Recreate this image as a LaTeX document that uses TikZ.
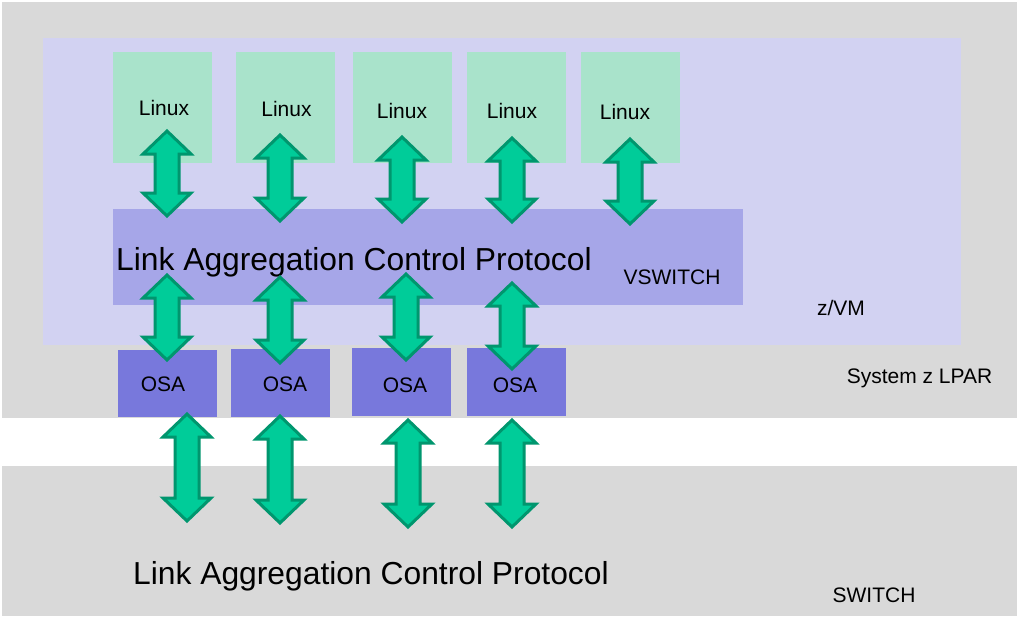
\documentclass[tikz,border=0pt]{standalone}
\usepackage{fontspec}
\setmainfont{Liberation Sans}
\definecolor{lpargray}{RGB}{217,217,217}
\definecolor{zvmfill}{RGB}{210,210,242}
\definecolor{vswfill}{RGB}{166,166,232}
\definecolor{linuxfill}{RGB}{169,227,203}
\definecolor{osafill}{RGB}{120,120,220}
\definecolor{arrfill}{RGB}{0,204,153}
\definecolor{arrline}{RGB}{0,150,110}
\tikzset{
  box/.style={rectangle, inner sep=0pt, outer sep=0pt, anchor=north west},
  smalltxt/.style={inner sep=0pt, anchor=base, font=\fontsize{21}{24}\selectfont},
  bigtxt/.style={inner sep=0pt, anchor=base west, font=\fontsize{31.8}{36}\selectfont},
  dblarrow/.style={fill=arrfill, draw=arrline, line width=3pt, line join=miter},
}
% #1 = centre x, #2 = top, #3 = bottom (outer extents)
\newcommand\dblarr[3]{%
  \draw[dblarrow] (#1,#2+2) -- (#1+24,#2+25) -- (#1+12,#2+25) -- (#1+12,#3-25)
    -- (#1+24,#3-25) -- (#1,#3-2) -- (#1-24,#3-25) -- (#1-12,#3-25)
    -- (#1-12,#2+25) -- (#1-24,#2+25) -- cycle;}
\begin{document}
\begin{tikzpicture}[x=1pt,y=-1pt]
\useasboundingbox[fill=white] (0,0) rectangle (1017,616);
% backgrounds
\node[box, fill=lpargray, minimum width=1015pt, minimum height=416pt] (lpar) at (2,2) {};
\node[box, fill=lpargray, minimum width=1015pt, minimum height=150pt] (switch) at (2,466) {};
\node[box, fill=zvmfill, minimum width=918pt, minimum height=307pt] (zvm) at (43,38) {};
\node[box, fill=vswfill, minimum width=630pt, minimum height=96pt] (vsw) at (113,209) {};
% Linux boxes
\node[box, fill=linuxfill, minimum width=99pt, minimum height=111pt] (lx1) at (113,52) {};
\node[box, fill=linuxfill, minimum width=99pt, minimum height=111pt] (lx2) at (236,52) {};
\node[box, fill=linuxfill, minimum width=99pt, minimum height=111pt] (lx3) at (353,52) {};
\node[box, fill=linuxfill, minimum width=99pt, minimum height=111pt] (lx4) at (467,52) {};
\node[box, fill=linuxfill, minimum width=99pt, minimum height=111pt] (lx5) at (581,52) {};
% OSA boxes
\node[box, fill=osafill, minimum width=99pt, minimum height=67pt] (osa1) at (118,350) {};
\node[box, fill=osafill, minimum width=99pt, minimum height=68pt] (osa2) at (231,349) {};
\node[box, fill=osafill, minimum width=99pt, minimum height=68pt] (osa3) at (352,348) {};
\node[box, fill=osafill, minimum width=99pt, minimum height=68pt] (osa4) at (467,348) {};
% labels
\node[smalltxt] (tlx1) at (164,115) {Linux};
\node[smalltxt] (tlx2) at (286.5,116) {Linux};
\node[smalltxt] (tlx3) at (402,118) {Linux};
\node[smalltxt] (tlx4) at (512,118) {Linux};
\node[smalltxt] (tlx5) at (625,119) {Linux};
\node[smalltxt] (tosa1) at (163,391) {OSA};
\node[smalltxt] (tosa2) at (285,391) {OSA};
\node[smalltxt] (tosa3) at (405,392) {OSA};
\node[smalltxt] (tosa4) at (515,392) {OSA};
\node[smalltxt] (tvsw) at (672,284) {VSWITCH};
\node[smalltxt] (tzvm) at (841,315) {z/VM};
\node[smalltxt] (tlpar) at (919.5,383) {System z LPAR};
\node[smalltxt] (tswitch) at (874,602) {SWITCH};
\node[bigtxt] (lacp1) at (116,270) {Link Aggregation Control Protocol};
\node[bigtxt] (lacp2) at (133,584) {Link Aggregation Control Protocol};
% arrows row 1
\dblarr{167}{129}{218}
\dblarr{280}{133}{223}
\dblarr{402}{135}{224}
\dblarr{512}{136}{224}
\dblarr{630}{137}{226}
% arrows row 2
\dblarr{167}{273}{362}
\dblarr{280}{275}{365}
\dblarr{406}{272}{362}
\dblarr{512}{281}{371}
% arrows row 3
\dblarr{187}{412}{523}
\dblarr{280}{414}{525}
\dblarr{408}{418}{529}
\dblarr{512}{418}{529}
\end{tikzpicture}
\end{document}
